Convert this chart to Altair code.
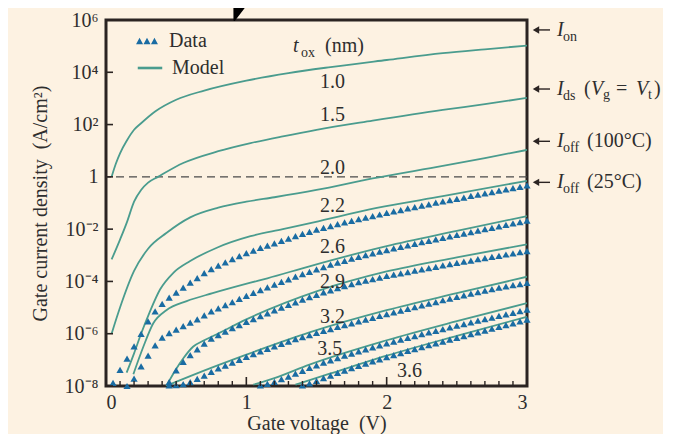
import json
import altair as alt
import pandas as pd

SERIF = "Liberation Serif"
TXT = "#2e2e2e"
TEAL = "#4a9c8e"
BLUE = "#1a6ca3"
BG = "#fdf2e2"
FRAME = "#2b2422"

# ---------------- data (gate current density as log10 exponents) ----------------
V_GRID = [0.05, 0.10, 0.15, 0.20, 0.25, 0.30, 0.35, 0.40, 0.45, 0.50,
          0.55, 0.60, 0.65, 0.70, 0.75, 0.80, 0.85, 0.90, 0.95, 1.00,
          1.05, 1.10, 1.15, 1.20, 1.25, 1.30, 1.35, 1.40, 1.45, 1.50,
          1.55, 1.60, 1.65, 1.70, 1.75, 1.80, 1.85, 1.90, 1.95, 2.00,
          2.05, 2.10, 2.15, 2.20, 2.25, 2.30, 2.35, 2.40, 2.45, 2.50,
          2.55, 2.60, 2.65, 2.70, 2.75, 2.80, 2.85, 2.90, 2.95, 3.00]

# measured series, each ends at 3.00 V (aligned to the end of V_GRID)
data_22 = [-7.88, -7.38, -6.95, -6.48, -6.01, -5.53, -5.15, -4.86, -4.62, -4.43,
           -4.24, -4.05, -3.87, -3.68, -3.53, -3.40, -3.27, -3.15, -3.03, -2.92,
           -2.82, -2.72, -2.63, -2.54, -2.45, -2.36, -2.27, -2.18, -2.10, -2.02,
           -1.95, -1.88, -1.81, -1.74, -1.68, -1.62, -1.56, -1.50, -1.44, -1.38,
           -1.32, -1.27, -1.21, -1.16, -1.10, -1.05, -0.99, -0.94, -0.89, -0.84,
           -0.79, -0.73, -0.68, -0.63, -0.58, -0.53, -0.48, -0.43, -0.38, -0.33]
data_26 = [-8.00, -7.72, -7.25, -6.84, -6.45, -6.15, -5.98, -5.84,
           -5.71, -5.58, -5.45, -5.30, -5.15, -5.03, -4.91, -4.79, -4.67, -4.55,
           -4.44, -4.33, -4.23, -4.12, -4.02, -3.92, -3.82, -3.72, -3.63, -3.54,
           -3.45, -3.36, -3.28, -3.21, -3.13, -3.06, -2.99, -2.93, -2.86, -2.80,
           -2.74, -2.68, -2.62, -2.56, -2.50, -2.45, -2.39, -2.33, -2.28, -2.22,
           -2.17, -2.11, -2.06, -2.00, -1.95, -1.89, -1.84, -1.78, -1.73, -1.67]
data_29 = [-7.85, -7.40,
           -7.08, -6.82, -6.60, -6.38, -6.19, -6.05, -5.92, -5.79, -5.67, -5.55,
           -5.44, -5.33, -5.22, -5.11, -5.00, -4.90, -4.80, -4.70, -4.60, -4.51,
           -4.42, -4.34, -4.26, -4.18, -4.10, -4.03, -3.97, -3.91, -3.85, -3.79,
           -3.74, -3.69, -3.64, -3.59, -3.54, -3.49, -3.44, -3.39, -3.34, -3.29,
           -3.24, -3.20, -3.15, -3.11, -3.06, -3.02, -2.97, -2.93, -2.88, -2.84]
data_32 = [-7.98, -7.97,
           -7.93, -7.85, -7.73, -7.60, -7.46, -7.33, -7.22, -7.11, -7.00, -6.89,
           -6.78, -6.68, -6.58, -6.48, -6.39, -6.30, -6.21, -6.13, -6.05, -5.97,
           -5.89, -5.82, -5.74, -5.67, -5.60, -5.53, -5.46, -5.39, -5.32, -5.25,
           -5.18, -5.12, -5.05, -4.98, -4.92, -4.85, -4.79, -4.72, -4.66, -4.59,
           -4.53, -4.47, -4.41, -4.35, -4.29, -4.24, -4.19, -4.14, -4.10, -4.06]
data_35 = [-7.98, -7.92, -7.84, -7.74, -7.64, -7.53, -7.42, -7.31, -7.21,
           -7.11, -7.02, -6.93, -6.84, -6.76, -6.68, -6.60, -6.52, -6.45, -6.37,
           -6.30, -6.23, -6.16, -6.09, -6.02, -5.95, -5.89, -5.82, -5.76, -5.69,
           -5.63, -5.57, -5.50, -5.44, -5.38, -5.32, -5.26, -5.20, -5.14, -5.08]
data_36 = [-7.98, -7.90, -7.80,
           -7.70, -7.60, -7.50, -7.41, -7.32, -7.23, -7.14, -7.06, -6.98, -6.90,
           -6.82, -6.74, -6.66, -6.59, -6.51, -6.44, -6.37, -6.30, -6.23, -6.16,
           -6.09, -6.02, -5.95, -5.88, -5.81, -5.74, -5.67, -5.60, -5.53, -5.46]

# model curves
m10_v = [0.04, 0.07, 0.10, 0.15, 0.20, 0.25, 0.35, 0.50, 0.70, 1.00, 1.30, 1.60, 2.00, 2.40, 2.70, 3.00]
m10 = [0.0, 0.5, 0.9, 1.4, 1.8, 2.05, 2.5, 2.95, 3.3, 3.68, 3.97, 4.2, 4.47, 4.73, 4.88, 5.02]
m15_v = [0.04, 0.10, 0.15, 0.20, 0.25, 0.30, 0.37, 0.55, 0.80, 1.03, 1.26, 1.50, 1.90, 2.40, 2.70, 3.00]
m15 = [-3.16, -2.4, -1.72, -0.95, -0.5, -0.22, 0.0, 0.53, 0.98, 1.29, 1.55, 1.8, 2.15, 2.56, 2.78, 3.02]
m20_v = [0.04, 0.10, 0.20, 0.30, 0.43, 0.60, 0.80, 1.00, 1.20, 1.50, 1.90, 2.40, 2.70, 3.00]
m20 = [-6.0, -5.0, -3.6, -2.75, -2.15, -1.55, -1.18, -0.95, -0.78, -0.5, -0.06, 0.42, 0.72, 1.03]
m22_v = [0.147, 0.20, 0.25, 0.31, 0.385, 0.48, 0.60, 0.79, 1.03, 1.26, 1.48, 1.93, 2.40, 3.00]
m22 = [-7.49, -6.75, -6.0, -5.19, -4.31, -3.67, -3.22, -2.71, -2.27, -2.0, -1.74, -1.19, -0.74, -0.15]
m26_v = [0.195, 0.266, 0.337, 0.43, 0.575, 0.76, 1.03, 1.15, 1.45, 2.00, 2.50, 3.00]
m26 = [-7.55, -6.5, -5.6, -5.1, -4.75, -4.45, -4.05, -3.88, -3.42, -2.65, -2.07, -1.5]
m29_v = [0.43, 0.50, 0.55, 0.62, 0.70, 0.77, 1.00, 1.50, 2.00, 2.50, 3.00]
m29 = [-8.0, -7.35, -6.95, -6.5, -6.25, -6.07, -5.45, -4.38, -3.62, -3.08, -2.58]
m32_v = [0.45, 0.60, 0.80, 1.00, 1.45, 2.00, 2.50, 3.00]
m32 = [-7.95, -7.62, -7.2, -6.8, -5.95, -5.1, -4.45, -3.82]
m35_v = [1.05, 1.20, 1.45, 2.00, 2.50, 3.00]
m35 = [-7.95, -7.7, -7.18, -6.25, -5.52, -4.83]
m36_v = [1.35, 1.60, 2.00, 2.50, 3.00]
m36 = [-7.95, -7.52, -6.84, -6.08, -5.35]

# labels
TOX_LABELS = ["1.0", "1.5", "2.0", "2.2", "2.6", "2.9", "3.2", "3.5", "3.6"]
TOX_LABEL_V = [1.614, 1.614, 1.614, 1.614, 1.614, 1.614, 1.614, 1.595, 2.163]
TOX_LABEL_LOG = [3.63, 2.37, 0.35, -1.10, -2.70, -4.04, -5.37, -6.60, -7.44]

YTICK_EXP = [-8, -6, -4, -2, 0, 2, 4, 6]
YTICK_LABELS = ["10\u207b\u2078", "10\u207b\u2076", "10\u207b\u2074", "10\u207b\u00b2",
                "1", "10\u00b2", "10\u2074", "10\u2076"]
XTICK_MAJOR = [0, 1, 2, 3]
XTICK_MINOR = [round(i * 0.1, 1) for i in range(31) if i % 10]

ANNOT_LOG = [5.62, 3.36, 1.36, -0.21]   # I_on, I_ds, I_off(100C), I_off(25C)
WEDGE_V = [0.965, 0.915]
WEDGE_LOG = [6.8, 6.0]
WEDGE_W = [17, 2]

# ---------------- tables ----------------
DATA = {"2.2": data_22, "2.6": data_26, "2.9": data_29, "3.2": data_32,
        "3.5": data_35, "3.6": data_36}
MODEL = {"1.0": (m10_v, m10), "1.5": (m15_v, m15), "2.0": (m20_v, m20),
         "2.2": (m22_v, m22), "2.6": (m26_v, m26), "2.9": (m29_v, m29),
         "3.2": (m32_v, m32), "3.5": (m35_v, m35), "3.6": (m36_v, m36)}

drows = []
for tox, vals in DATA.items():
    vs = V_GRID[len(V_GRID) - len(vals):]
    for v, e in zip(vs, vals):
        drows.append({"V": v, "J": 10 ** e, "tox": tox, "kind2": "Data"})
data_df = pd.DataFrame(drows)

mrows = []
for tox, (vs, es) in MODEL.items():
    for v, e in zip(vs, es):
        mrows.append({"V": v, "J": 10 ** e, "tox": tox, "kind": "Model"})
model_df = pd.DataFrame(mrows)

xs = alt.Scale(domain=[0, 3], nice=False, zero=False)
ys = alt.Scale(type="log", domain=[1e-8, 1e6], nice=False)

label_expr = json.dumps(YTICK_LABELS, ensure_ascii=False) + "[round((log(datum.value)/LN10 + 8)/2)]"

X_AXIS = alt.Axis(values=XTICK_MAJOR, format="d", ticks=False, domain=False, grid=False,
                  labelFont=SERIF, labelFontSize=20, labelColor=TXT, labelPadding=6,
                  title="Gate voltage\u00a0 (V)", titleFont=SERIF, titleFontSize=20,
                  titleFontWeight="normal", titleColor=TXT, titlePadding=1)
Y_AXIS = alt.Axis(values=[10 ** e for e in YTICK_EXP], labelExpr=label_expr, ticks=False,
                  domain=False, grid=False, labelFont=SERIF, labelFontSize=20,
                  labelColor=TXT, labelPadding=8,
                  title="Gate current density\u00a0 (A/cm\u00b2)", titleFont=SERIF,
                  titleFontSize=20, titleFontWeight="normal", titleColor=TXT,
                  titlePadding=14)

TRI_PATH = ("M-1,0.3L-0.68,-0.3L-0.36,0.3Z M-0.32,0.3L0,-0.3L0.32,0.3Z "
            "M0.36,0.3L0.68,-0.3L1,0.3Z")

lines = alt.Chart(model_df).mark_line(strokeWidth=1.8, interpolate="monotone", clip=True).encode(
    x=alt.X("V:Q", scale=xs, axis=X_AXIS),
    y=alt.Y("J:Q", scale=ys, axis=Y_AXIS),
    stroke=alt.Stroke("kind:N", scale=alt.Scale(domain=["Model"], range=[TEAL]),
                      legend=alt.Legend(title=None, orient="none", legendX=30, legendY=34,
                                        symbolType="stroke", symbolSize=600,
                                        symbolStrokeWidth=2.6, labelFont=SERIF,
                                        labelFontSize=20, labelColor=TXT, labelOffset=8,
                                        padding=0)),
    detail="tox:N",
)

points = alt.Chart(data_df).mark_point(shape="triangle-up", filled=True, size=52,
                                       opacity=1, strokeWidth=0).encode(
    x=alt.X("V:Q", scale=xs, axis=X_AXIS),
    y=alt.Y("J:Q", scale=ys, axis=Y_AXIS),
    fill=alt.Fill("kind2:N", scale=alt.Scale(domain=["Data"], range=[BLUE]),
                  legend=alt.Legend(title=None, orient="none", legendX=30, legendY=10,
                                    symbolType=TRI_PATH, symbolSize=480,
                                    symbolStrokeWidth=0, labelFont=SERIF,
                                    labelFontSize=20, labelColor=TXT, labelOffset=11,
                                    padding=0)),
)

dashed = alt.Chart(pd.DataFrame({"J": [1.0]})).mark_rule(
    strokeDash=[8, 5], color="#4a4a4a", strokeWidth=1.2).encode(
    y=alt.Y("J:Q", scale=ys, axis=Y_AXIS))

ytick = alt.Chart(pd.DataFrame({"J": [10 ** e for e in YTICK_EXP]})).mark_rule(
    color=FRAME, strokeWidth=1.6, x2Offset=7).encode(
    y=alt.Y("J:Q", scale=ys, axis=Y_AXIS), x=alt.datum(0), x2=alt.datum(0))
xtick_major = alt.Chart(pd.DataFrame({"V": XTICK_MAJOR})).mark_rule(
    color=FRAME, strokeWidth=1.6, y2Offset=-9).encode(
    x=alt.X("V:Q", scale=xs, axis=X_AXIS), y=alt.datum(1e-8), y2=alt.datum(1e-8))
xtick_minor = alt.Chart(pd.DataFrame({"V": XTICK_MINOR})).mark_rule(
    color=FRAME, strokeWidth=1.4, y2Offset=-5).encode(
    x=alt.X("V:Q", scale=xs, axis=X_AXIS), y=alt.datum(1e-8), y2=alt.datum(1e-8))

tox_df = pd.DataFrame({"V": TOX_LABEL_V, "J": [10 ** e for e in TOX_LABEL_LOG],
                       "t": TOX_LABELS})
tox_text = alt.Chart(tox_df).mark_text(font=SERIF, fontSize=20, color=TXT,
                                       align="center", baseline="middle").encode(
    x=alt.X("V:Q", scale=xs, axis=X_AXIS), y=alt.Y("J:Q", scale=ys, axis=Y_AXIS), text="t:N")

layers = [dashed, lines, points, ytick, xtick_major, xtick_minor, tox_text]


def piece(v, e, text, dx, dy, size, italic=False):
    df = pd.DataFrame({"V": [v], "J": [10 ** e], "t": [text]})
    return alt.Chart(df).mark_text(font=SERIF, fontSize=size, color=TXT, align="left",
                                   baseline="middle", dx=dx, dy=dy,
                                   fontStyle="italic" if italic else "normal").encode(
        x=alt.X("V:Q", scale=xs, axis=X_AXIS), y=alt.Y("J:Q", scale=ys, axis=Y_AXIS),
        text="t:N")


# t_ox (nm) header
layers += [piece(1.333, 5.01, "t", 0, 0, 20, True),
           piece(1.333, 5.01, "ox", 8, 7, 14),
           piece(1.333, 5.01, "(nm)", 32, 0, 20)]

# right-side annotations: arrows + text
ann_df = pd.DataFrame({"J": [10 ** e for e in ANNOT_LOG]})
layers.append(alt.Chart(ann_df).mark_rule(color=FRAME, strokeWidth=1.4, xOffset=11,
                                          x2Offset=23).encode(
    y=alt.Y("J:Q", scale=ys, axis=Y_AXIS), x=alt.datum(3), x2=alt.datum(3)))
layers.append(alt.Chart(ann_df).mark_point(shape="triangle-left", filled=True, size=55,
                                           color=FRAME, opacity=1, xOffset=9).encode(
    y=alt.Y("J:Q", scale=ys, axis=Y_AXIS), x=alt.datum(3)))

e_on, e_ds, e_100, e_25 = ANNOT_LOG
layers += [
    piece(3, e_on, "I", 30, 0, 20, True), piece(3, e_on, "on", 36, 7, 14),
    piece(3, e_ds, "I", 30, 0, 20, True), piece(3, e_ds, "ds", 36, 7, 14),
    piece(3, e_ds, "(", 57, 0, 20), piece(3, e_ds, "V", 64, 0, 20, True),
    piece(3, e_ds, "g", 76, 6, 14), piece(3, e_ds, "=", 89, 0, 20),
    piece(3, e_ds, "V", 109, 0, 20, True), piece(3, e_ds, "t", 121, 6, 14),
    piece(3, e_ds, ")", 127, 0, 20),
    piece(3, e_100, "I", 30, 0, 20, True), piece(3, e_100, "off", 36, 7, 14),
    piece(3, e_100, "(100\u00b0C)", 60, 0, 20),
    piece(3, e_25, "I", 30, 0, 20, True), piece(3, e_25, "off", 36, 7, 14),
    piece(3, e_25, "(25\u00b0C)", 60, 0, 20),
]

# black pointer wedge at the top
wedge_df = pd.DataFrame({"V": WEDGE_V, "J": [10 ** e for e in WEDGE_LOG], "w": WEDGE_W})
layers.append(alt.Chart(wedge_df).mark_trail(color="black", clip=False).encode(
    x=alt.X("V:Q", scale=xs, axis=X_AXIS), y=alt.Y("J:Q", scale=ys, axis=Y_AXIS),
    size=alt.Size("w:Q", scale=None, legend=None)))

chart = alt.layer(*layers).properties(
    width=421, height=366,
    padding={"left": 98, "top": 12, "right": 136, "bottom": 48},
    autosize="none", background=BG,
).configure_view(stroke=FRAME, strokeWidth=3)

chart.save("out.html", embed_options={"renderer": "svg", "actions": False})
